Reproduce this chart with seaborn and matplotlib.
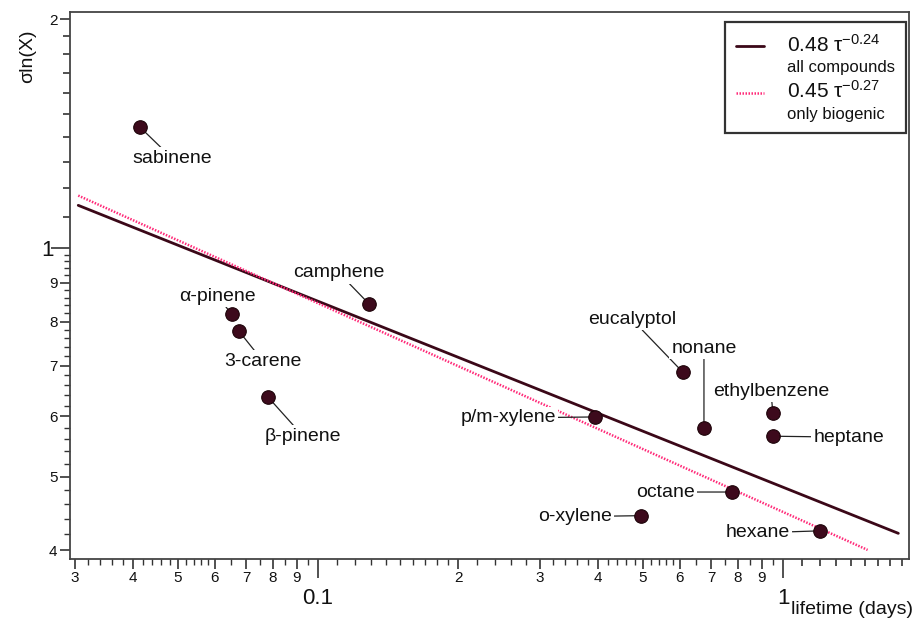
import numpy as np
import pandas as pd
import matplotlib
matplotlib.use("Agg")
import matplotlib.pyplot as plt
import seaborn as sns
from matplotlib.ticker import FixedLocator, FuncFormatter, NullFormatter
from matplotlib.lines import Line2D

# ---------------- data ----------------
compounds = ["sabinene", "α-pinene", "3-carene", "β-pinene", "camphene",
             "p/m-xylene", "o-xylene", "eucalyptol", "nonane", "octane",
             "ethylbenzene", "heptane", "hexane"]
lifetime = [0.0414, 0.0653, 0.0676, 0.0781, 0.1287,
            0.394, 0.495, 0.609, 0.676, 0.777,
            0.951, 0.951, 1.20]
sigma_ln = [1.443, 0.818, 0.777, 0.636, 0.844,
            0.599, 0.444, 0.686, 0.579, 0.477,
            0.606, 0.565, 0.424]
# label offsets (pixels) of each name from its point
label_dx = [32, -15, 24, 35, -30, -87, -66, -51, 0, -67, -2, 76, -62]
label_dy = [-31, 18, -30, -39, 31, -1, -1, 53, 80, 0, 22, -1, -2]

# power-law fits  sigma = a * tau^b
fit_all = dict(a=0.484, b=-0.245, xmin=0.0305, xmax=1.77)
fit_bio = dict(a=0.449, b=-0.275, xmin=0.0305, xmax=1.52)
legend_labels = ["0.48 τ$^{\\mathregular{-0.24}}$", "all compounds",
                 "0.45 τ$^{\\mathregular{-0.27}}$", "only biogenic"]

# ticks
x_dec = [0.1, 1.0]
x_int = [0.03, 0.04, 0.05, 0.06, 0.07, 0.08, 0.09,
         0.2, 0.3, 0.4, 0.5, 0.6, 0.7, 0.8, 0.9]
x_mid = [1.1, 1.2, 1.3, 1.4, 1.5, 1.6, 1.7, 1.8]
y_dec = [1.0]
y_int = [0.4, 0.5, 0.6, 0.7, 0.8, 0.9, 2.0]
y_mid = [1.1, 1.2, 1.3, 1.4, 1.5, 1.6, 1.7, 1.8, 1.9]

DARK = "#3b0818"
PINK = "#ff2a78"

sns.set_theme(style="white")
plt.rcParams["font.family"] = ["Liberation Sans", "DejaVu Sans"]
plt.rcParams["mathtext.fontset"] = "custom"
plt.rcParams["mathtext.rm"] = "Liberation Sans"
plt.rcParams["mathtext.it"] = "Liberation Sans:italic"

fig = plt.figure(figsize=(9.14, 6.23), dpi=100)
ax = fig.add_axes([70/914, 1-559/623, (909-70)/914, (559-12)/623])

df = pd.DataFrame({"lifetime": lifetime, "sigma": sigma_ln, "name": compounds})

rows = []
for key, f in (("all", fit_all), ("bio", fit_bio)):
    xs = np.geomspace(f["xmin"], f["xmax"], 60)
    for xv in xs:
        rows.append((key, xv, f["a"] * xv ** f["b"]))
fits = pd.DataFrame(rows, columns=["fit", "x", "y"])

sns.lineplot(data=fits[fits.fit == "all"], x="x", y="y", ax=ax, color=DARK,
             lw=2.0, zorder=2, legend=False)
sns.lineplot(data=fits[fits.fit == "bio"], x="x", y="y", ax=ax, color=PINK,
             lw=1.8, ls=(0, (0.6, 0.6)), zorder=2, legend=False)
sns.scatterplot(data=df, x="lifetime", y="sigma", ax=ax, s=95,
                color="#3d0a1c", edgecolor="#1c0208", linewidth=0.8,
                zorder=6, legend=False)

for name, xv, yv, dx, dy in zip(compounds, lifetime, sigma_ln, label_dx, label_dy):
    ax.annotate(name, xy=(xv, yv), xytext=(dx, dy), textcoords="offset pixels",
                ha="center", va="center", fontsize=14, color="#111111",
                bbox=dict(boxstyle="square,pad=0.12", fc="white", ec="none"),
                arrowprops=dict(arrowstyle="-", color="#222222", lw=0.9,
                                shrinkA=0, shrinkB=0),
                zorder=4)

ax.set_xscale("log")
ax.set_yscale("log")
ax.set_xlim(0.02928, 1.866)
ax.set_ylim(0.3893, 2.046)

def fmt_num(v, pos=None):
    for d in (0.01, 0.1):
        m = v / d
        if abs(m - round(m)) < 1e-6 and 2 <= round(m) <= 9:
            return str(int(round(m)))
    if abs(v - 0.1) < 1e-9:
        return "0.1"
    if abs(v - 1) < 1e-9:
        return "1"
    if abs(v - 2) < 1e-9:
        return "2"
    return ""

xt_major = sorted(x_dec + x_int + x_mid)
yt_major = sorted(y_dec + y_int + y_mid)
ax.xaxis.set_major_locator(FixedLocator(xt_major))
ax.yaxis.set_major_locator(FixedLocator(yt_major))
ax.xaxis.set_major_formatter(FuncFormatter(fmt_num))
ax.yaxis.set_major_formatter(FuncFormatter(fmt_num))

x_small = []
for d in (0.01, 0.1):
    for m in np.arange(3.2, 6.01, 0.2):
        v = round(m * d, 5)
        if abs(m - round(m)) > 1e-6:
            x_small.append(v)
    for m in (6.5, 7.5, 8.5, 9.5):
        x_small.append(round(m * d, 5))
x_small += [0.11, 0.12, 0.13, 0.14, 0.15, 0.16, 0.17, 0.18, 0.19,
            0.22, 0.24, 0.26, 0.28]
y_small = [round(v, 3) for v in np.arange(0.40, 1.0, 0.02)
           if abs(v * 10 - round(v * 10)) > 1e-6]
ax.xaxis.set_minor_locator(FixedLocator(sorted(set(x_small))))
ax.yaxis.set_minor_locator(FixedLocator(y_small))
ax.xaxis.set_minor_formatter(NullFormatter())
ax.yaxis.set_minor_formatter(NullFormatter())

ax.tick_params(axis="both", which="major", direction="out", length=7, width=1.2,
               color="#333333", labelsize=11, pad=2, labelcolor="#111111",
               bottom=True, left=True)
ax.tick_params(axis="both", which="minor", direction="out", length=4, width=1.0,
               color="#333333", bottom=True, left=True)

for t, loc in zip(ax.xaxis.get_major_ticks(), ax.xaxis.get_majorticklocs()):
    if loc in x_dec:
        t.set_pad(14)
        t.tick1line.set_markersize(14)
        t.label1.set_fontsize(16)
    elif loc in x_mid:
        t.tick1line.set_markersize(5)
for t, loc in zip(ax.yaxis.get_major_ticks(), ax.yaxis.get_majorticklocs()):
    if loc in y_dec:
        t.set_pad(5)
        t.tick1line.set_markersize(14)
        t.label1.set_fontsize(16)
    elif loc in y_mid:
        t.tick1line.set_markersize(5)

for sp in ax.spines.values():
    sp.set_color("#444444")
    sp.set_linewidth(1.3)

ax.set_xlabel("")
ax.set_ylabel("")
fig.text(852/914, 1-610/623, "lifetime (days)", ha="center", va="center",
         fontsize=14, color="#111111")
fig.text(28/914, 1-56/623, "σln(X)", ha="center", va="center", rotation=90,
         fontsize=14, color="#111111")

handles = [Line2D([], [], color=DARK, lw=2.0),
           Line2D([], [], color="none"),
           Line2D([], [], color=PINK, lw=1.8, ls=(0, (0.6, 0.6))),
           Line2D([], [], color="none")]
leg = ax.legend(handles, legend_labels, loc="upper right",
                bbox_to_anchor=(1.0 - 3/839, 1.0 - 10/547),
                frameon=True, fancybox=False, edgecolor="black",
                handlelength=1.8, handletextpad=1.5, labelspacing=0.32,
                borderpad=0.75, borderaxespad=0)
leg.get_frame().set_linewidth(1.6)
sizes = [15, 12, 15, 12]
for txt, s in zip(leg.get_texts(), sizes):
    txt.set_fontsize(s)
    txt.set_color("#111111")
leg.set_zorder(10)

fig.savefig("out.png", dpi=100)
